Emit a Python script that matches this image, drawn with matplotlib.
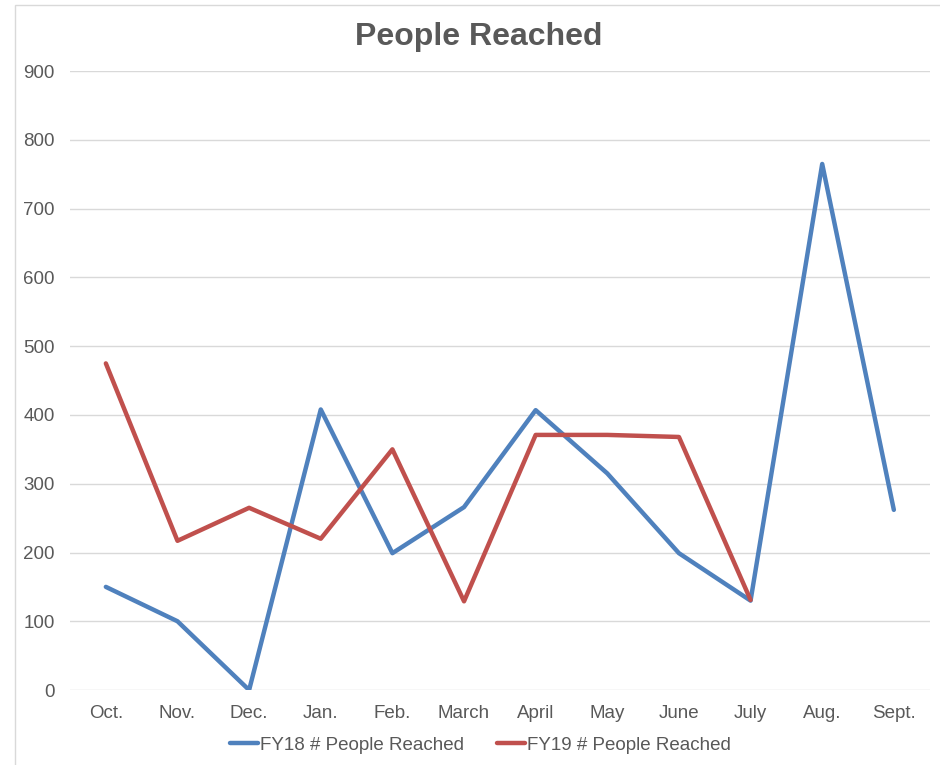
import matplotlib.pyplot as plt
from matplotlib.patches import Rectangle

plt.rcParams['font.family'] = ['Liberation Sans', 'DejaVu Sans']

months = ["Oct.", "Nov.", "Dec.", "Jan.", "Feb.", "March", "April", "May", "June", "July", "Aug.", "Sept."]
fy18 = [150, 100, 0, 408, 199, 266, 407, 315, 199, 130, 765, 262]
fy19 = [475, 217, 265, 220, 350, 129, 371, 371, 368, 131]

blue = "#4F81BD"
red = "#C0504D"
grey = "#595959"

fig = plt.figure(figsize=(9.4, 7.65), dpi=100)
ax = fig.add_axes([0.0745, 0.098, 0.9145, 0.809])

x = list(range(len(months)))
ax.plot(x, fy18, color=blue, lw=3.2, solid_joinstyle='round', solid_capstyle='round', label="FY18 # People Reached")
ax.plot(x[:len(fy19)], fy19, color=red, lw=3.2, solid_joinstyle='round', solid_capstyle='round', label="FY19 # People Reached")

ax.set_xlim(-0.5, len(months) - 0.5)
ax.set_ylim(0, 900)
ax.set_yticks(range(0, 901, 100))
ax.set_xticks(x)
ax.set_xticklabels(months)
ax.grid(axis='y', color='#D9D9D9', lw=1)
ax.set_axisbelow(True)
for s in ax.spines.values():
    s.set_visible(False)
ax.tick_params(length=0, labelsize=13.5, colors=grey)
ax.tick_params(axis='y', pad=11)
ax.tick_params(axis='x', pad=11)

fig.text(0.509, 0.952, "People Reached", ha='center', va='center', fontsize=23, fontweight='bold', color=grey)

fig.legend(loc='center', bbox_to_anchor=(0.511, 0.026), ncol=2, frameon=False, fontsize=13.5,
           handlelength=1.5, handletextpad=0.1, columnspacing=1.8, labelcolor=grey)

# chart area border
fig.patches.append(Rectangle((15 / 940, -0.01), 1.0, 1 - 5 / 765 + 0.01, transform=fig.transFigure,
                             fill=False, edgecolor='#D9D9D9', lw=1))

fig.savefig("out.png", dpi=100)
